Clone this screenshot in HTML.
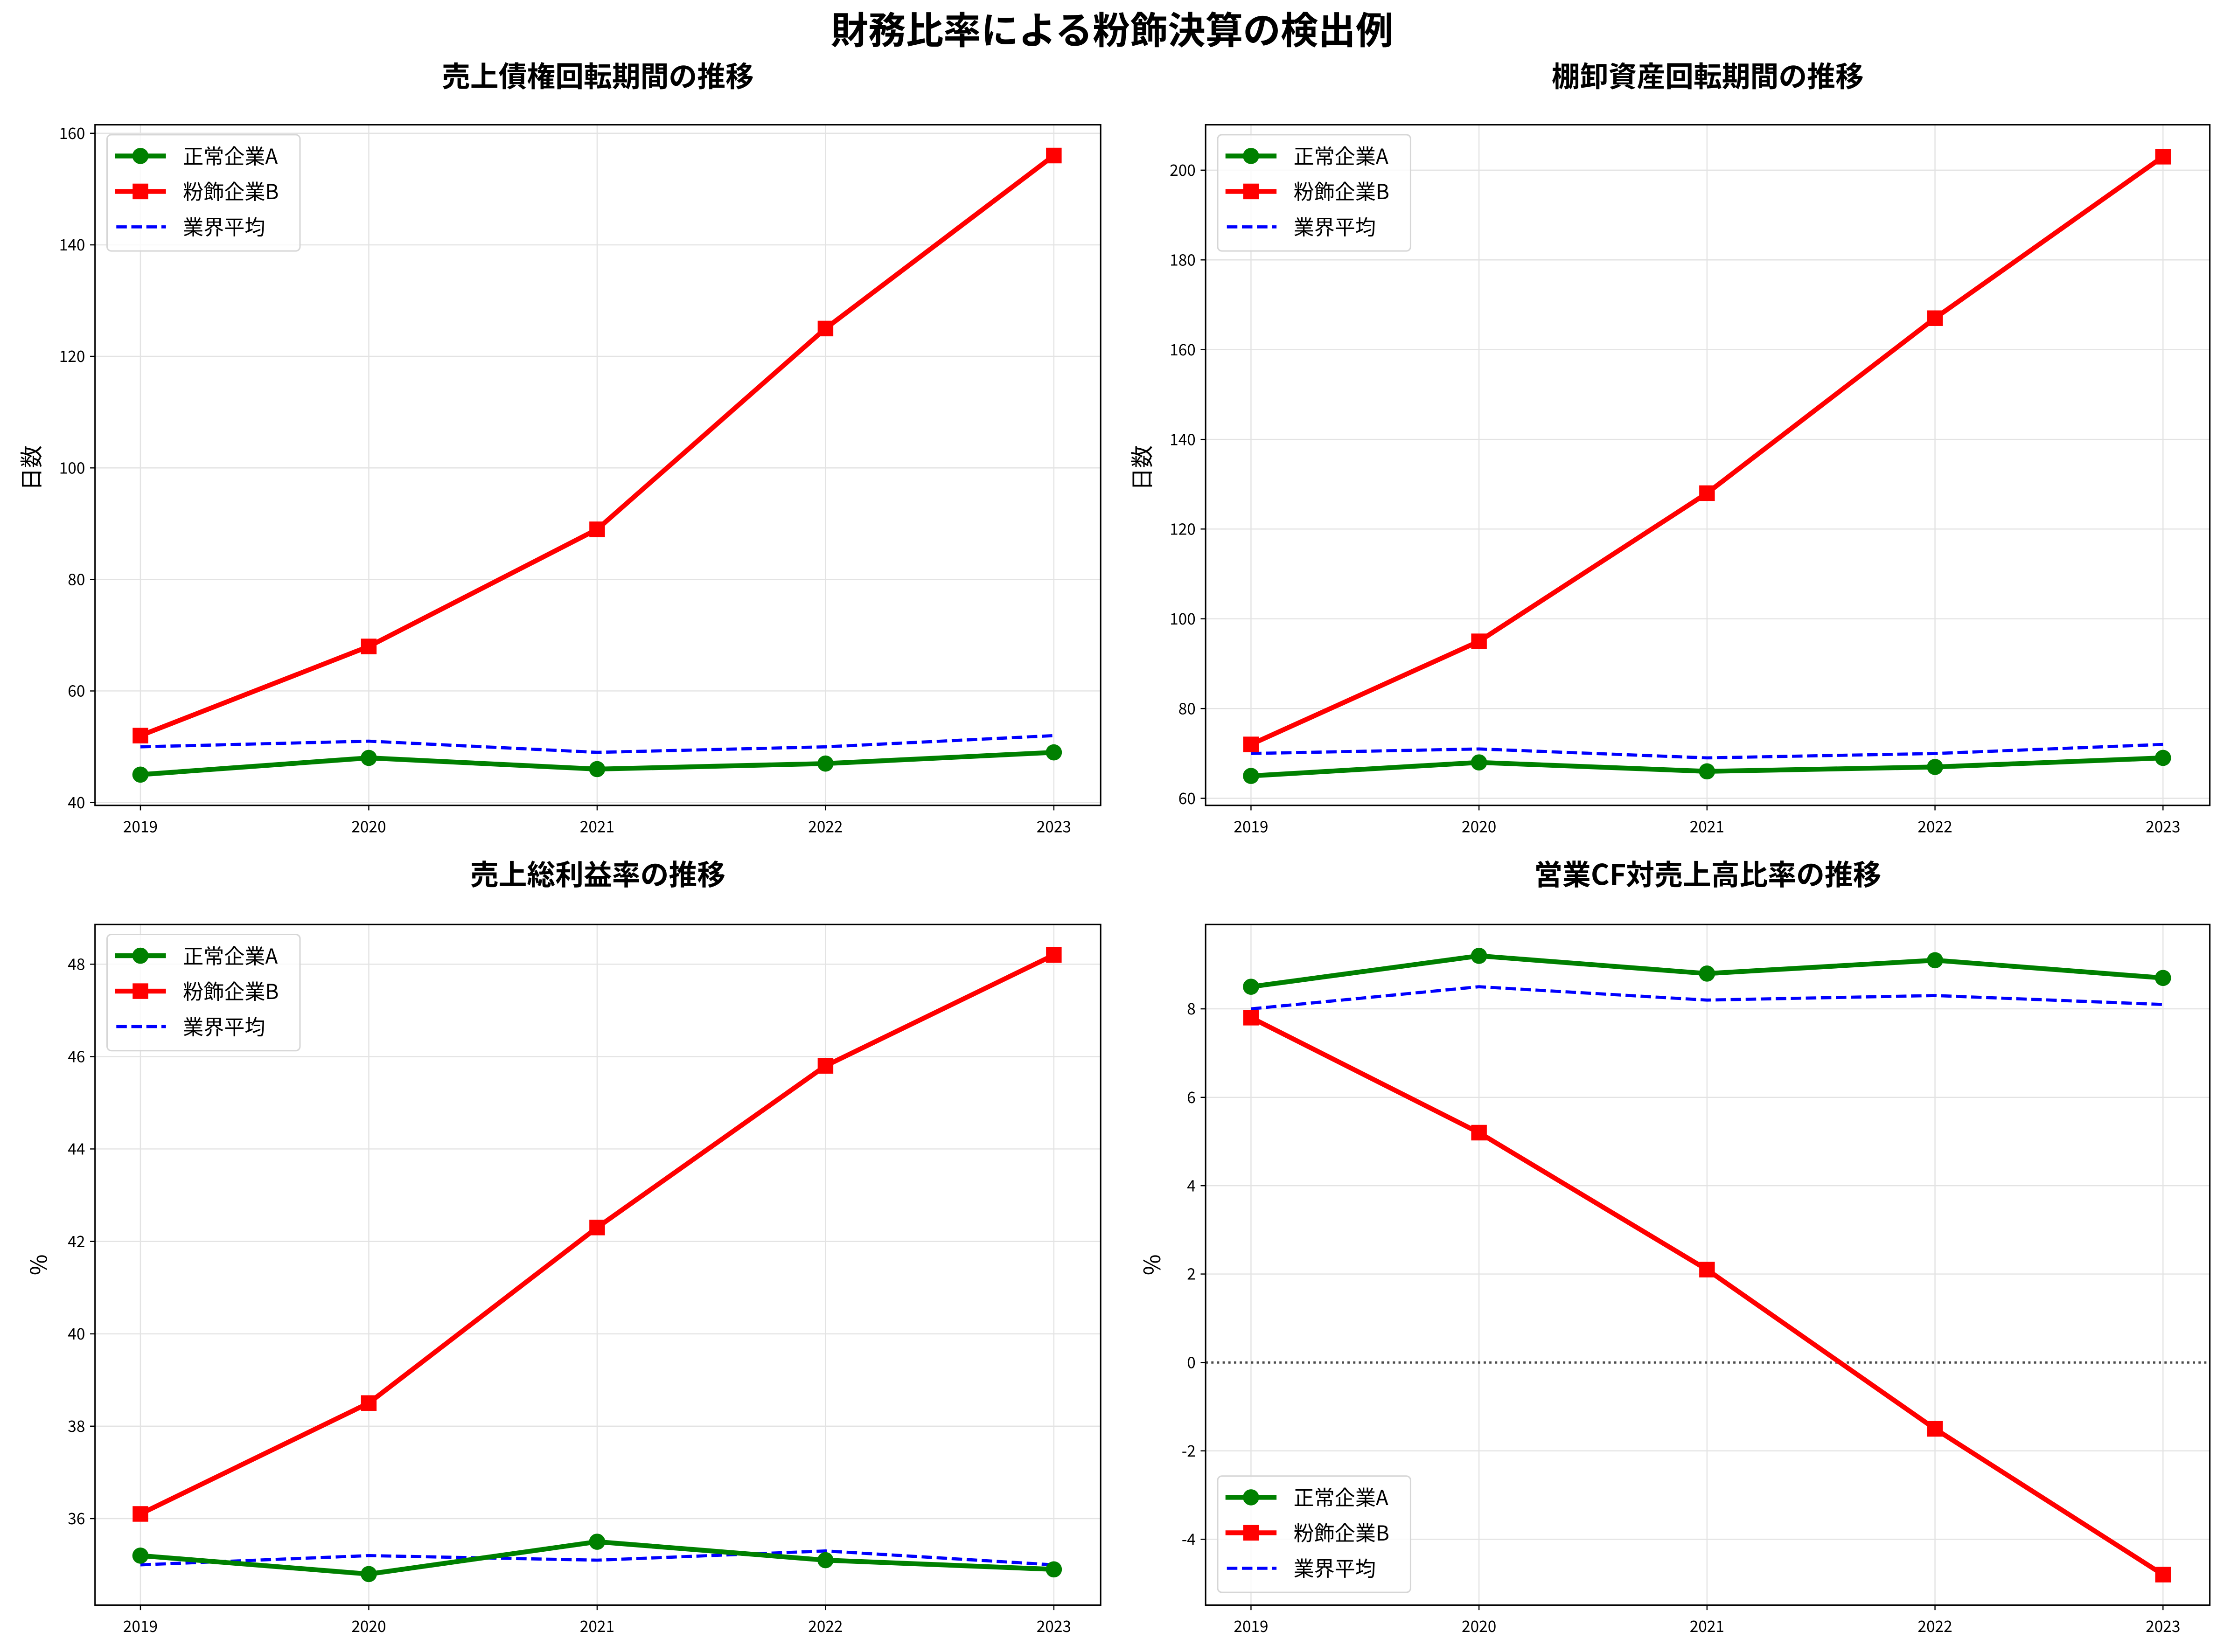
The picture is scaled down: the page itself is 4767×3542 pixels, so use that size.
<!DOCTYPE html>
<html><head><meta charset="utf-8"><style>
html,body{margin:0;padding:0;background:#fff;}
svg{display:block;}
text{font-family:"Noto Sans CJK JP","Liberation Sans",sans-serif;}
.tk{font-size:11px;fill:#000;}
.lg{font-size:14.5px;fill:#000;}
.ttl{font-size:20px;font-weight:bold;fill:#000;}
.grid line{stroke:#e3e3e3;stroke-width:0.8;}
</style></head><body>
<svg width="4767" height="3542" viewBox="0 0 1568 1165.07" preserveAspectRatio="none" xmlns="http://www.w3.org/2000/svg">
<rect width="1568" height="1166" fill="#fff"/>
<text x="784" y="31" text-anchor="middle" style="font-size:26.5px;font-weight:bold">財務比率による粉飾決算の検出例</text>

<!-- ===== Top-left ===== -->
<text class="ttl" x="421.5" y="61" text-anchor="middle">売上債権回転期間の推移</text>
<g class="grid">
<line x1="99" y1="88" x2="99" y2="568"/><line x1="260" y1="88" x2="260" y2="568"/><line x1="421" y1="88" x2="421" y2="568"/><line x1="582" y1="88" x2="582" y2="568"/><line x1="743" y1="88" x2="743" y2="568"/>
<line x1="67" y1="566" x2="776" y2="566"/><line x1="67" y1="487.3" x2="776" y2="487.3"/><line x1="67" y1="408.7" x2="776" y2="408.7"/><line x1="67" y1="330" x2="776" y2="330"/><line x1="67" y1="251.3" x2="776" y2="251.3"/><line x1="67" y1="172.7" x2="776" y2="172.7"/><line x1="67" y1="94" x2="776" y2="94"/>
</g>
<polyline points="99,526.7 260,522.7 421,530.6 582,526.7 743,518.8" fill="none" stroke="#0000ff" stroke-width="2.2" stroke-dasharray="7.4,3.2"/>
<polyline points="99,546.3 260,534.5 421,542.4 582,538.5 743,530.6" fill="none" stroke="#008000" stroke-width="3.4"/>
<g fill="#008000"><circle cx="99" cy="546.3" r="5.7"/><circle cx="260" cy="534.5" r="5.7"/><circle cx="421" cy="542.4" r="5.7"/><circle cx="582" cy="538.5" r="5.7"/><circle cx="743" cy="530.6" r="5.7"/></g>
<polyline points="99,518.8 260,455.9 421,373.3 582,231.7 743,109.7" fill="none" stroke="#ff0000" stroke-width="3.4"/>
<g fill="#ff0000"><rect x="93.5" y="513.3" width="11" height="11"/><rect x="254.5" y="450.4" width="11" height="11"/><rect x="415.5" y="367.8" width="11" height="11"/><rect x="576.5" y="226.2" width="11" height="11"/><rect x="737.5" y="104.2" width="11" height="11"/></g>
<rect x="67" y="88" width="709" height="480" fill="none" stroke="#000" stroke-width="1"/>
<g stroke="#000" stroke-width="0.8"><line x1="63.5" y1="566" x2="67" y2="566"/><line x1="63.5" y1="487.3" x2="67" y2="487.3"/><line x1="63.5" y1="408.7" x2="67" y2="408.7"/><line x1="63.5" y1="330" x2="67" y2="330"/><line x1="63.5" y1="251.3" x2="67" y2="251.3"/><line x1="63.5" y1="172.7" x2="67" y2="172.7"/><line x1="63.5" y1="94" x2="67" y2="94"/>
<line x1="99" y1="568" x2="99" y2="571.5"/><line x1="260" y1="568" x2="260" y2="571.5"/><line x1="421" y1="568" x2="421" y2="571.5"/><line x1="582" y1="568" x2="582" y2="571.5"/><line x1="743" y1="568" x2="743" y2="571.5"/></g>
<g class="tk" text-anchor="end"><text x="60" y="570">40</text><text x="60" y="491.3">60</text><text x="60" y="412.7">80</text><text x="60" y="334">100</text><text x="60" y="255.3">120</text><text x="60" y="176.7">140</text><text x="60" y="98">160</text></g>
<g class="tk" text-anchor="middle"><text x="99" y="587">2019</text><text x="260" y="587">2020</text><text x="421" y="587">2021</text><text x="582" y="587">2022</text><text x="743" y="587">2023</text></g>
<text transform="translate(28,330) rotate(-90)" text-anchor="middle" style="font-size:16px">日数</text>
<g>
<rect x="75.5" y="95" width="136" height="82" rx="3" fill="#fff" fill-opacity="0.8" stroke="#d6d6d6" stroke-width="1"/>
<line x1="81" y1="110" x2="117" y2="110" stroke="#008000" stroke-width="3.4"/><circle cx="99" cy="110" r="5.7" fill="#008000"/>
<line x1="81" y1="135" x2="117" y2="135" stroke="#ff0000" stroke-width="3.4"/><rect x="93.5" y="129.5" width="11" height="11" fill="#ff0000"/>
<line x1="82" y1="160" x2="117" y2="160" stroke="#0000ff" stroke-width="2.2" stroke-dasharray="7.4,3.2"/>
<text class="lg" x="129" y="115.5">正常企業A</text><text class="lg" x="129" y="140.5">粉飾企業B</text><text class="lg" x="129" y="165.5">業界平均</text>
</g>

<!-- ===== Top-right ===== -->
<text class="ttl" x="1204" y="61" text-anchor="middle">棚卸資産回転期間の推移</text>
<g class="grid">
<line x1="882" y1="88" x2="882" y2="568"/><line x1="1042.75" y1="88" x2="1042.75" y2="568"/><line x1="1203.5" y1="88" x2="1203.5" y2="568"/><line x1="1364.25" y1="88" x2="1364.25" y2="568"/><line x1="1525" y1="88" x2="1525" y2="568"/>
<line x1="850" y1="563" x2="1558" y2="563"/><line x1="850" y1="499.7" x2="1558" y2="499.7"/><line x1="850" y1="436.4" x2="1558" y2="436.4"/><line x1="850" y1="373.1" x2="1558" y2="373.1"/><line x1="850" y1="309.9" x2="1558" y2="309.9"/><line x1="850" y1="246.6" x2="1558" y2="246.6"/><line x1="850" y1="183.3" x2="1558" y2="183.3"/><line x1="850" y1="120" x2="1558" y2="120"/>
</g>
<polyline points="882,531.4 1042.75,528.2 1203.5,534.5 1364.25,531.4 1525,525" fill="none" stroke="#0000ff" stroke-width="2.2" stroke-dasharray="7.4,3.2"/>
<polyline points="882,547.2 1042.75,537.7 1203.5,544 1364.25,540.9 1525,534.5" fill="none" stroke="#008000" stroke-width="3.4"/>
<g fill="#008000"><circle cx="882" cy="547.2" r="5.7"/><circle cx="1042.75" cy="537.7" r="5.7"/><circle cx="1203.5" cy="544" r="5.7"/><circle cx="1364.25" cy="540.9" r="5.7"/><circle cx="1525" cy="534.5" r="5.7"/></g>
<polyline points="882,525 1042.75,452.3 1203.5,347.8 1364.25,224.4 1525,110.5" fill="none" stroke="#ff0000" stroke-width="3.4"/>
<g fill="#ff0000"><rect x="876.5" y="519.5" width="11" height="11"/><rect x="1037.25" y="446.8" width="11" height="11"/><rect x="1198" y="342.3" width="11" height="11"/><rect x="1358.75" y="218.9" width="11" height="11"/><rect x="1519.5" y="105" width="11" height="11"/></g>
<rect x="850" y="88" width="708" height="480" fill="none" stroke="#000" stroke-width="1"/>
<g stroke="#000" stroke-width="0.8"><line x1="846.5" y1="563" x2="850" y2="563"/><line x1="846.5" y1="499.7" x2="850" y2="499.7"/><line x1="846.5" y1="436.4" x2="850" y2="436.4"/><line x1="846.5" y1="373.1" x2="850" y2="373.1"/><line x1="846.5" y1="309.9" x2="850" y2="309.9"/><line x1="846.5" y1="246.6" x2="850" y2="246.6"/><line x1="846.5" y1="183.3" x2="850" y2="183.3"/><line x1="846.5" y1="120" x2="850" y2="120"/>
<line x1="882" y1="568" x2="882" y2="571.5"/><line x1="1042.75" y1="568" x2="1042.75" y2="571.5"/><line x1="1203.5" y1="568" x2="1203.5" y2="571.5"/><line x1="1364.25" y1="568" x2="1364.25" y2="571.5"/><line x1="1525" y1="568" x2="1525" y2="571.5"/></g>
<g class="tk" text-anchor="end"><text x="843" y="567">60</text><text x="843" y="503.7">80</text><text x="843" y="440.4">100</text><text x="843" y="377.1">120</text><text x="843" y="313.9">140</text><text x="843" y="250.6">160</text><text x="843" y="187.3">180</text><text x="843" y="124">200</text></g>
<g class="tk" text-anchor="middle"><text x="882" y="587">2019</text><text x="1042.75" y="587">2020</text><text x="1203.5" y="587">2021</text><text x="1364.25" y="587">2022</text><text x="1525" y="587">2023</text></g>
<text transform="translate(811,330) rotate(-90)" text-anchor="middle" style="font-size:16px">日数</text>
<g>
<rect x="858.5" y="95" width="136" height="82" rx="3" fill="#fff" fill-opacity="0.8" stroke="#d6d6d6" stroke-width="1"/>
<line x1="864" y1="110" x2="900" y2="110" stroke="#008000" stroke-width="3.4"/><circle cx="882" cy="110" r="5.7" fill="#008000"/>
<line x1="864" y1="135" x2="900" y2="135" stroke="#ff0000" stroke-width="3.4"/><rect x="876.5" y="129.5" width="11" height="11" fill="#ff0000"/>
<line x1="865" y1="160" x2="900" y2="160" stroke="#0000ff" stroke-width="2.2" stroke-dasharray="7.4,3.2"/>
<text class="lg" x="912" y="115.5">正常企業A</text><text class="lg" x="912" y="140.5">粉飾企業B</text><text class="lg" x="912" y="165.5">業界平均</text>
</g>

<!-- ===== Bottom-left ===== -->
<text class="ttl" x="421.5" y="624" text-anchor="middle">売上総利益率の推移</text>
<g class="grid">
<line x1="99" y1="652" x2="99" y2="1132"/><line x1="260" y1="652" x2="260" y2="1132"/><line x1="421" y1="652" x2="421" y2="1132"/><line x1="582" y1="652" x2="582" y2="1132"/><line x1="743" y1="652" x2="743" y2="1132"/>
<line x1="67" y1="1071" x2="776" y2="1071"/><line x1="67" y1="1005.8" x2="776" y2="1005.8"/><line x1="67" y1="940.7" x2="776" y2="940.7"/><line x1="67" y1="875.5" x2="776" y2="875.5"/><line x1="67" y1="810.3" x2="776" y2="810.3"/><line x1="67" y1="745.2" x2="776" y2="745.2"/><line x1="67" y1="680" x2="776" y2="680"/>
</g>
<polyline points="99,1103.6 260,1097.1 421,1100.3 582,1093.8 743,1103.6" fill="none" stroke="#0000ff" stroke-width="2.2" stroke-dasharray="7.4,3.2"/>
<polyline points="99,1097.1 260,1110.1 421,1087.3 582,1100.3 743,1106.8" fill="none" stroke="#008000" stroke-width="3.4"/>
<g fill="#008000"><circle cx="99" cy="1097.1" r="5.7"/><circle cx="260" cy="1110.1" r="5.7"/><circle cx="421" cy="1087.3" r="5.7"/><circle cx="582" cy="1100.3" r="5.7"/><circle cx="743" cy="1106.8" r="5.7"/></g>
<polyline points="99,1067.7 260,989.5 421,865.7 582,751.7 743,673.5" fill="none" stroke="#ff0000" stroke-width="3.4"/>
<g fill="#ff0000"><rect x="93.5" y="1062.2" width="11" height="11"/><rect x="254.5" y="984" width="11" height="11"/><rect x="415.5" y="860.2" width="11" height="11"/><rect x="576.5" y="746.2" width="11" height="11"/><rect x="737.5" y="668" width="11" height="11"/></g>
<rect x="67" y="652" width="709" height="480" fill="none" stroke="#000" stroke-width="1"/>
<g stroke="#000" stroke-width="0.8"><line x1="63.5" y1="1071" x2="67" y2="1071"/><line x1="63.5" y1="1005.8" x2="67" y2="1005.8"/><line x1="63.5" y1="940.7" x2="67" y2="940.7"/><line x1="63.5" y1="875.5" x2="67" y2="875.5"/><line x1="63.5" y1="810.3" x2="67" y2="810.3"/><line x1="63.5" y1="745.2" x2="67" y2="745.2"/><line x1="63.5" y1="680" x2="67" y2="680"/>
<line x1="99" y1="1132" x2="99" y2="1135.5"/><line x1="260" y1="1132" x2="260" y2="1135.5"/><line x1="421" y1="1132" x2="421" y2="1135.5"/><line x1="582" y1="1132" x2="582" y2="1135.5"/><line x1="743" y1="1132" x2="743" y2="1135.5"/></g>
<g class="tk" text-anchor="end"><text x="60" y="1075">36</text><text x="60" y="1009.8">38</text><text x="60" y="944.7">40</text><text x="60" y="879.5">42</text><text x="60" y="814.3">44</text><text x="60" y="749.2">46</text><text x="60" y="684">48</text></g>
<g class="tk" text-anchor="middle"><text x="99" y="1151">2019</text><text x="260" y="1151">2020</text><text x="421" y="1151">2021</text><text x="582" y="1151">2022</text><text x="743" y="1151">2023</text></g>
<text transform="translate(33,892) rotate(-90)" text-anchor="middle" style="font-size:16px">%</text>
<g>
<rect x="75.5" y="659" width="136" height="82" rx="3" fill="#fff" fill-opacity="0.8" stroke="#d6d6d6" stroke-width="1"/>
<line x1="81" y1="674" x2="117" y2="674" stroke="#008000" stroke-width="3.4"/><circle cx="99" cy="674" r="5.7" fill="#008000"/>
<line x1="81" y1="699" x2="117" y2="699" stroke="#ff0000" stroke-width="3.4"/><rect x="93.5" y="693.5" width="11" height="11" fill="#ff0000"/>
<line x1="82" y1="724" x2="117" y2="724" stroke="#0000ff" stroke-width="2.2" stroke-dasharray="7.4,3.2"/>
<text class="lg" x="129" y="679.5">正常企業A</text><text class="lg" x="129" y="704.5">粉飾企業B</text><text class="lg" x="129" y="729.5">業界平均</text>
</g>

<!-- ===== Bottom-right ===== -->
<text class="ttl" x="1204" y="624" text-anchor="middle">営業CF対売上高比率の推移</text>
<g class="grid">
<line x1="882" y1="652" x2="882" y2="1132"/><line x1="1042.75" y1="652" x2="1042.75" y2="1132"/><line x1="1203.5" y1="652" x2="1203.5" y2="1132"/><line x1="1364.25" y1="652" x2="1364.25" y2="1132"/><line x1="1525" y1="652" x2="1525" y2="1132"/>
<line x1="850" y1="711.5" x2="1558" y2="711.5"/><line x1="850" y1="773.9" x2="1558" y2="773.9"/><line x1="850" y1="836.2" x2="1558" y2="836.2"/><line x1="850" y1="898.5" x2="1558" y2="898.5"/><line x1="850" y1="1023.2" x2="1558" y2="1023.2"/><line x1="850" y1="1085.6" x2="1558" y2="1085.6"/>
</g>
<line x1="850" y1="960.9" x2="1558" y2="960.9" stroke="#000" stroke-opacity="0.7" stroke-width="1.6" stroke-dasharray="1.6,2.4"/>
<polyline points="882,711.5 1042.75,695.9 1203.5,705.3 1364.25,702.1 1525,708.4" fill="none" stroke="#0000ff" stroke-width="2.2" stroke-dasharray="7.4,3.2"/>
<polyline points="882,695.9 1042.75,674.1 1203.5,686.6 1364.25,677.2 1525,689.7" fill="none" stroke="#008000" stroke-width="3.4"/>
<g fill="#008000"><circle cx="882" cy="695.9" r="5.7"/><circle cx="1042.75" cy="674.1" r="5.7"/><circle cx="1203.5" cy="686.6" r="5.7"/><circle cx="1364.25" cy="677.2" r="5.7"/><circle cx="1525" cy="689.7" r="5.7"/></g>
<polyline points="882,717.7 1042.75,798.8 1203.5,895.4 1364.25,1007.7 1525,1110.5" fill="none" stroke="#ff0000" stroke-width="3.4"/>
<g fill="#ff0000"><rect x="876.5" y="712.2" width="11" height="11"/><rect x="1037.25" y="793.3" width="11" height="11"/><rect x="1198" y="889.9" width="11" height="11"/><rect x="1358.75" y="1002.2" width="11" height="11"/><rect x="1519.5" y="1105" width="11" height="11"/></g>
<rect x="850" y="652" width="708" height="480" fill="none" stroke="#000" stroke-width="1"/>
<g stroke="#000" stroke-width="0.8"><line x1="846.5" y1="711.5" x2="850" y2="711.5"/><line x1="846.5" y1="773.9" x2="850" y2="773.9"/><line x1="846.5" y1="836.2" x2="850" y2="836.2"/><line x1="846.5" y1="898.5" x2="850" y2="898.5"/><line x1="846.5" y1="960.9" x2="850" y2="960.9"/><line x1="846.5" y1="1023.2" x2="850" y2="1023.2"/><line x1="846.5" y1="1085.6" x2="850" y2="1085.6"/>
<line x1="882" y1="1132" x2="882" y2="1135.5"/><line x1="1042.75" y1="1132" x2="1042.75" y2="1135.5"/><line x1="1203.5" y1="1132" x2="1203.5" y2="1135.5"/><line x1="1364.25" y1="1132" x2="1364.25" y2="1135.5"/><line x1="1525" y1="1132" x2="1525" y2="1135.5"/></g>
<g class="tk" text-anchor="end"><text x="843" y="715.5">8</text><text x="843" y="777.9">6</text><text x="843" y="840.2">4</text><text x="843" y="902.5">2</text><text x="843" y="964.9">0</text><text x="843" y="1027.2">-2</text><text x="843" y="1089.6">-4</text></g>
<g class="tk" text-anchor="middle"><text x="882" y="1151">2019</text><text x="1042.75" y="1151">2020</text><text x="1203.5" y="1151">2021</text><text x="1364.25" y="1151">2022</text><text x="1525" y="1151">2023</text></g>
<text transform="translate(818,892) rotate(-90)" text-anchor="middle" style="font-size:16px">%</text>
<g>
<rect x="858.5" y="1041" width="136" height="82" rx="3" fill="#fff" fill-opacity="0.8" stroke="#d6d6d6" stroke-width="1"/>
<line x1="864" y1="1056" x2="900" y2="1056" stroke="#008000" stroke-width="3.4"/><circle cx="882" cy="1056" r="5.7" fill="#008000"/>
<line x1="864" y1="1081" x2="900" y2="1081" stroke="#ff0000" stroke-width="3.4"/><rect x="876.5" y="1075.5" width="11" height="11" fill="#ff0000"/>
<line x1="865" y1="1106" x2="900" y2="1106" stroke="#0000ff" stroke-width="2.2" stroke-dasharray="7.4,3.2"/>
<text class="lg" x="912" y="1061.5">正常企業A</text><text class="lg" x="912" y="1086.5">粉飾企業B</text><text class="lg" x="912" y="1111.5">業界平均</text>
</g>
</svg>
</body></html>
